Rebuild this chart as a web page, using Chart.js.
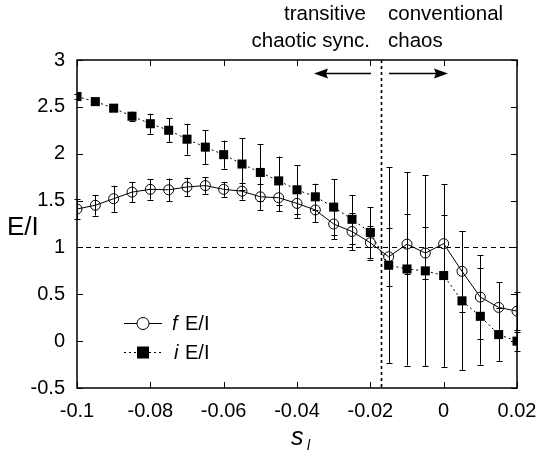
<!DOCTYPE html>
<html>
<head>
<meta charset="utf-8">
<script src="https://cdn.jsdelivr.net/npm/chart.js@4.4.0/dist/chart.umd.min.js"></script>
<style>
html,body{margin:0;padding:0;background:#fff;}
#wrap{width:542px;height:453px;position:relative;}
</style>
</head>
<body>
<div id="wrap"><canvas id="c" width="542" height="453"></canvas></div>
<script>
const sValues = [-0.1,-0.095,-0.09,-0.085,-0.08,-0.075,-0.07,-0.065,-0.06,-0.055,-0.05,-0.045,-0.04,-0.035,-0.03,-0.025,-0.02,-0.015,-0.01,-0.005,0,0.005,0.01,0.015,0.02];
const fEI = [1.41,1.45,1.52,1.59,1.62,1.615,1.645,1.66,1.62,1.60,1.54,1.53,1.47,1.40,1.25,1.17,1.05,0.90,1.035,0.94,1.04,0.745,0.47,0.36,0.32];
const fErr = [0.11,0.11,0.14,0.11,0.11,0.12,0.10,0.09,0.08,0.09,0.14,0.145,0.16,0.13,0.16,0.2,0.18,0.31,0.32,0.28,0.31,0.43,0.445,0.27,0.2];
const iEI = [2.61,2.556,2.486,2.40,2.32,2.25,2.155,2.07,1.99,1.89,1.80,1.71,1.615,1.54,1.43,1.30,1.16,0.81,0.77,0.75,0.70,0.43,0.265,0.07,0.0];
const iErr = [0.03,0.03,0.03,0.05,0.107,0.13,0.165,0.18,0.15,0.28,0.30,0.26,0.26,0.14,0.30,0.26,0.27,1.045,1.03,1.02,0.975,0.74,0.515,0.28,0.1];
const xTicks = [-0.1,-0.08,-0.06,-0.04,-0.02,0,0.02];
const yTicks = [-0.5,0,0.5,1,1.5,2,2.5,3];
const refLineY = 1;
const boundaryS = -0.017;

const FONT = '"Liberation Sans", Arial, Helvetica, sans-serif';
const fmt = v => String(Number(Number(v).toFixed(3)));

const errs = [fErr, iErr];
const TARGET = {left: 77, right: 517, top: 60, bottom: 388};

const plotPlugin = {
  id: 'plotExtras',
  beforeDatasetsDraw(chart) {
    const ctx = chart.ctx, xs = chart.scales.x, ys = chart.scales.y, a = chart.chartArea;
    ctx.save();
    ctx.strokeStyle = '#000';
    ctx.lineWidth = 1;
    ctx.setLineDash([5,4]);
    ctx.beginPath();
    const yr = Math.round(ys.getPixelForValue(refLineY)) + 0.5;
    ctx.moveTo(a.left, yr); ctx.lineTo(a.right, yr); ctx.stroke();
    ctx.lineWidth = 1.6;
    ctx.setLineDash([3,3]);
    ctx.beginPath();
    const xb = Math.round(xs.getPixelForValue(boundaryS)) + 0.5;
    ctx.moveTo(xb, a.top); ctx.lineTo(xb, a.bottom); ctx.stroke();
    ctx.setLineDash([]);
    ctx.lineWidth = 1;
    ctx.strokeStyle = '#000';
    chart.data.datasets.forEach((ds, di) => {
      const e = errs[di];
      ds.data.forEach((p, k) => {
        const px = Math.round(xs.getPixelForValue(p.x)) + 0.5;
        const y1 = ys.getPixelForValue(p.y + e[k]);
        const y2 = ys.getPixelForValue(p.y - e[k]);
        ctx.beginPath();
        ctx.moveTo(px, y1); ctx.lineTo(px, y2);
        ctx.moveTo(px - 3, Math.round(y1)+0.5); ctx.lineTo(px + 3, Math.round(y1)+0.5);
        ctx.moveTo(px - 3, Math.round(y2)+0.5); ctx.lineTo(px + 3, Math.round(y2)+0.5);
        ctx.stroke();
      });
    });
    ctx.restore();
  },
  afterDraw(chart) {
    const ctx = chart.ctx, xs = chart.scales.x, ys = chart.scales.y, a = chart.chartArea;
    ctx.save();
    ctx.strokeStyle = '#000';
    ctx.lineWidth = 1.5;
    ctx.strokeRect(a.left, a.top, a.right - a.left, a.bottom - a.top);
    ctx.lineWidth = 1;
    ctx.beginPath();
    xTicks.forEach(v => {
      const px = Math.round(xs.getPixelForValue(v)) + 0.5;
      ctx.moveTo(px, a.bottom); ctx.lineTo(px, a.bottom - 6);
      ctx.moveTo(px, a.top); ctx.lineTo(px, a.top + 6);
    });
    yTicks.forEach(v => {
      const py = Math.round(ys.getPixelForValue(v)) + 0.5;
      ctx.moveTo(a.left, py); ctx.lineTo(a.left + 6, py);
      ctx.moveTo(a.right, py); ctx.lineTo(a.right - 6, py);
    });
    ctx.stroke();

    ctx.fillStyle = '#000';
    ctx.font = '26px ' + FONT;
    ctx.textBaseline = 'middle';
    ctx.textAlign = 'left';
    ctx.fillText('E/I', 7, 228);
    ctx.font = 'italic 25px ' + FONT;
    ctx.textBaseline = 'alphabetic';
    ctx.fillText('s', 291, 445);
    ctx.font = 'italic 14px ' + FONT;
    ctx.fillText('l', 307, 450);

    ctx.font = '20.5px ' + FONT;
    ctx.textBaseline = 'middle';
    ctx.textAlign = 'right';
    ctx.fillText('transitive', 366, 14);
    ctx.fillText('chaotic sync.', 370, 41);
    ctx.textAlign = 'left';
    ctx.fillText('conventional', 388, 14);
    ctx.fillText('chaos', 388, 41);

    const ay = 73.5;
    ctx.lineWidth = 1.5;
    ctx.beginPath();
    ctx.moveTo(371, ay); ctx.lineTo(325, ay);
    ctx.moveTo(389, ay); ctx.lineTo(437, ay);
    ctx.stroke();
    ctx.beginPath();
    ctx.moveTo(314, ay); ctx.lineTo(328, ay - 5); ctx.lineTo(326, ay); ctx.lineTo(328, ay + 5); ctx.closePath();
    ctx.fill();
    ctx.beginPath();
    ctx.moveTo(448, ay); ctx.lineTo(434, ay - 5); ctx.lineTo(436, ay); ctx.lineTo(434, ay + 5); ctx.closePath();
    ctx.fill();

    ctx.lineWidth = 1;
    const r1 = 323.5, r2 = 352.5;
    ctx.beginPath(); ctx.moveTo(124, r1); ctx.lineTo(162, r1); ctx.stroke();
    ctx.beginPath(); ctx.arc(143, r1, 6, 0, Math.PI * 2); ctx.fillStyle = '#fff'; ctx.fill(); ctx.stroke();
    ctx.setLineDash([2,3]);
    ctx.beginPath(); ctx.moveTo(124, r2); ctx.lineTo(162, r2); ctx.stroke();
    ctx.setLineDash([]);
    ctx.fillStyle = '#000';
    ctx.fillRect(137, r2 - 6, 12, 12);
    ctx.textAlign = 'left';
    ctx.textBaseline = 'middle';
    ctx.font = 'italic 20px ' + FONT;
    ctx.fillText('f', 172, r1 + 1);
    ctx.fillText('i', 174, r2 + 1);
    ctx.font = '20px ' + FONT;
    ctx.fillText('E/I', 185, r1 + 1);
    ctx.fillText('E/I', 185, r2 + 1);
    ctx.restore();
  }
};

const toPts = arr => sValues.map((s, k) => ({x: s, y: arr[k]}));

const pad = {top: 60, right: 25, left: 0, bottom: 0};
const chart = new Chart(document.getElementById('c'), {
  type: 'line',
  data: {
    datasets: [
      {
        label: 'f E/I',
        data: toPts(fEI),
        borderColor: '#000',
        borderWidth: 1,
        pointStyle: 'circle',
        pointRadius: 5,
        pointBorderWidth: 1,
        pointBackgroundColor: 'rgba(0,0,0,0)',
        pointBorderColor: '#000',
        tension: 0
      },
      {
        label: 'i E/I',
        data: toPts(iEI),
        borderColor: '#000',
        borderWidth: 1,
        borderDash: [2,3],
        pointStyle: 'rect',
        pointRadius: 6.4,
        pointBorderWidth: 0,
        pointBackgroundColor: '#000',
        pointBorderColor: '#000',
        tension: 0
      }
    ]
  },
  options: {
    responsive: false,
    animation: false,
    devicePixelRatio: 1,
    layout: {padding: pad},
    plugins: {legend: {display: false}, tooltip: {enabled: false}},
    scales: {
      x: {
        type: 'linear',
        min: -0.1, max: 0.02,
        afterFit: s => { s.height = 65; s.paddingLeft = 0; s.paddingRight = 0; },
        afterBuildTicks: s => { s.ticks = xTicks.map(v => ({value: v})); },
        grid: {display: false, drawTicks: false},
        border: {display: false},
        ticks: {callback: v => fmt(v), color: '#000', padding: 11, maxRotation: 0, autoSkip: false, font: {family: FONT, size: 20}}
      },
      y: {
        type: 'linear',
        min: -0.5, max: 3,
        afterFit: s => { s.width = 77; s.paddingTop = 0; s.paddingBottom = 0; },
        afterBuildTicks: s => { s.ticks = yTicks.map(v => ({value: v})); },
        grid: {display: false, drawTicks: false},
        border: {display: false},
        ticks: {callback: v => fmt(v), color: '#000', padding: 12, autoSkip: false, font: {family: FONT, size: 20}}
      }
    }
  },
  plugins: [plotPlugin]
});
for (let it = 0; it < 3; it++) {
  const a = chart.chartArea;
  const dl = TARGET.left - a.left, dr = a.right - TARGET.right, dt = TARGET.top - a.top, db = a.bottom - TARGET.bottom;
  if (Math.abs(dl) < 0.5 && Math.abs(dr) < 0.5 && Math.abs(dt) < 0.5 && Math.abs(db) < 0.5) break;
  pad.left = Math.max(0, pad.left + dl); pad.right = Math.max(0, pad.right + dr);
  pad.top = Math.max(0, pad.top + dt); pad.bottom = Math.max(0, pad.bottom + db);
  chart.options.layout.padding = {left: pad.left, right: pad.right, top: pad.top, bottom: pad.bottom};
  chart.update();
}
</script>
</body>
</html>
